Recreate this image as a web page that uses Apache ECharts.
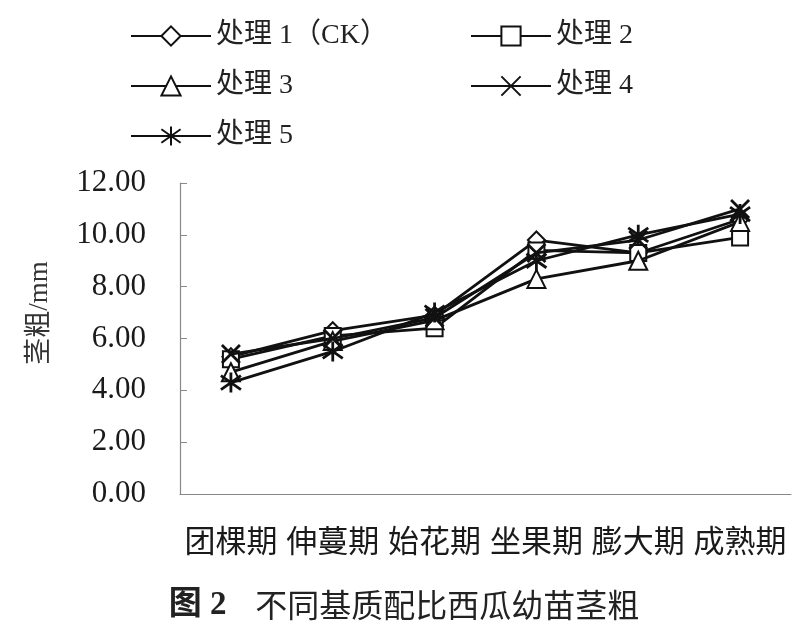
<!DOCTYPE html>
<html><head><meta charset="utf-8">
<script src="https://cdn.jsdelivr.net/npm/echarts@6/dist/echarts.min.js"></script>
<style>html,body{margin:0;padding:0;background:#fff}#c{width:807px;height:639px}</style>
</head><body><div id="c"></div>
<script>
const categories = ['团棵期','伸蔓期','始花期','坐果期','膨大期','成熟期'];
const seriesNames = ['处理 1（CK）','处理 2','处理 3','处理 4','处理 5'];
const s1 = [5.3, 6.3, 6.9, 9.8, 9.3, 10.6];
const s2 = [5.2, 6.1, 6.4, 9.4, 9.3, 9.9];
const s3 = [4.7, 5.9, 6.7, 8.3, 9.0, 10.5];
const s4 = [5.4, 6.0, 6.8, 9.3, 9.8, 11.0];
const s5 = [4.3, 5.5, 7.0, 9.0, 10.0, 10.8];
const yTicks = [0, 2, 4, 6, 8, 10, 12];

const FONT = '"Liberation Serif","Noto Sans CJK SC",serif';
const X_PATH = 'path://M0,0L10,10M10,0L0,10';
const AST_PATH = 'path://M5,0L5,10M0,1.5L10,8.5M10,1.5L0,8.5';
const symbols = ['emptyDiamond','emptyRect','emptyTriangle',X_PATH,AST_PATH];
const sizes = [17,16,18,18,20];
const dataSets = [s1,s2,s3,s4,s5];

const series = dataSets.map((d,i)=>({
  name: seriesNames[i], type:'line', data:d,
  symbol: symbols[i], symbolSize: sizes[i], showSymbol:true,
  lineStyle:{color:'#111', width:2.8},
  itemStyle:{color: i>=3 ? 'none' : '#111', borderColor:'#111', borderWidth:2.8},
  emphasis:{disabled:true}, animation:false, z: 2+i
}));

const legendPos = [[125,17],[465,17],[125,67],[465,67],[125,117]];
const legends = seriesNames.map((n,i)=>({
  data:[n], left:legendPos[i][0], top:legendPos[i][1], orient:'horizontal',
  itemWidth:80, itemHeight:24, itemGap:10,
  textStyle:{fontFamily:FONT, fontSize:28, color:'#222'},
  selectedMode:false
}));

const chart = echarts.init(document.getElementById('c'));
chart.setOption({
  animation:false,
  backgroundColor:'#fff',
  legend: legends,
  grid:{left:180, right:16, top:183, bottom:145},
  xAxis:{type:'category', data:categories, boundaryGap:true,
    axisLine:{lineStyle:{color:'#888', width:1.2}},
    axisTick:{inside:true, length:7, lineStyle:{color:'#888'}},
    axisLabel:{fontFamily:FONT, fontSize:31, color:'#1a1a1a', margin:34, interval:0}},
  yAxis:{type:'value', min:0, max:12, interval:2,
    axisLine:{show:true, lineStyle:{color:'#888', width:1.2}},
    axisTick:{show:true, inside:true, length:7, lineStyle:{color:'#888'}},
    splitLine:{show:false},
    axisLabel:{fontFamily:FONT, fontSize:31, color:'#1a1a1a', margin:34,
      formatter:v=> yTicks.includes(v) ? v.toFixed(2) : ''}},
  graphic:[
    {type:'text', x:40, y:313, rotation:Math.PI/2,
      style:{text:'茎粗/mm', font:'27px '+FONT, fill:'#333', align:'center', verticalAlign:'middle'}},
    {type:'text', x:404, y:605,
      style:{text:'{b|图 2}    不同基质配比西瓜幼苗茎粗', align:'center', verticalAlign:'middle',
        font:'32px "Noto Sans CJK SC",sans-serif', fill:'#222',
        rich:{b:{font:'bold 33px "Liberation Serif","Noto Sans CJK SC",serif', fill:'#222'}}}}
  ],
  series: series
});
</script></body></html>
